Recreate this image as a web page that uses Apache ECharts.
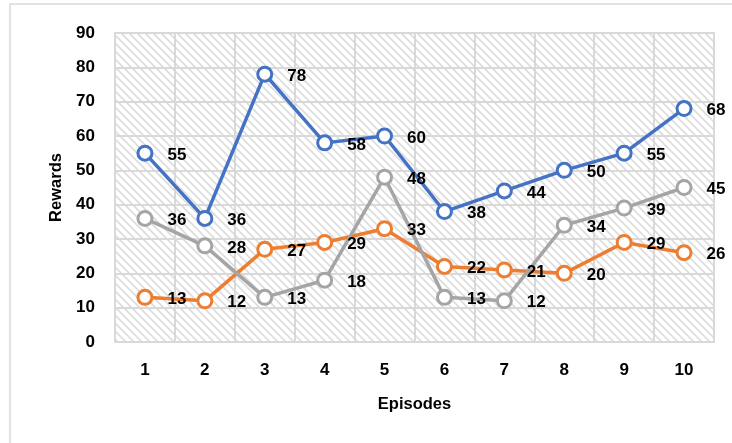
<!DOCTYPE html>
<html><head><meta charset="utf-8">
<script src="https://cdn.jsdelivr.net/npm/echarts@6/dist/echarts.min.js"></script>
<style>html,body{margin:0;padding:0;background:#fff}#c{width:732px;height:443px}</style>
</head><body><div id="c"></div>
<script>
var categories = ['1','2','3','4','5','6','7','8','9','10'];
var blueSeries = [55,36,78,58,60,38,44,50,55,68];
var orangeSeries = [13,12,27,29,33,22,21,20,29,26];
var graySeries = [36,28,13,18,48,13,12,34,39,45];

var P = 8;
var pc = document.createElement('canvas');
pc.width = P; pc.height = P;
var ctx = pc.getContext('2d');
ctx.fillStyle = '#ffffff'; ctx.fillRect(0,0,P,P);
ctx.strokeStyle = '#dcdcdc'; ctx.lineWidth = 1.6;
ctx.beginPath(); ctx.moveTo(-1,-1); ctx.lineTo(P+1,P+1); ctx.stroke();
ctx.beginPath(); ctx.moveTo(-1,P-1); ctx.lineTo(1,P+1); ctx.stroke();
ctx.beginPath(); ctx.moveTo(P-1,-1); ctx.lineTo(P+1,1); ctx.stroke();

var font = 'Liberation Sans';
function mk(name, data, color) {
  return {
    name: name, type: 'line', data: data,
    symbol: 'circle', symbolSize: 14,
    lineStyle: {color: color, width: 3.5},
    itemStyle: {color: '#ffffff', borderColor: color, borderWidth: 3},
    label: {show: true, position: 'right', distance: 14, offset: [0, 2], color: '#000', fontWeight: 'bold', fontSize: 17, fontFamily: font},
    z: 3
  };
}
var chart = echarts.init(document.getElementById('c'));
chart.setOption({
  animation: false,
  graphic: [{type: 'rect', shape: {x: 10, y: 4, width: 740, height: 460}, style: {fill: 'none', stroke: '#d9d9d9', lineWidth: 1.5}, z: -10}],
  grid: {left: 115, right: 18, top: 33, bottom: 101, show: true, backgroundColor: {image: pc, repeat: 'repeat'}, borderColor: '#d9d9d9', borderWidth: 2},
  xAxis: {
    type: 'category', data: categories, boundaryGap: true,
    name: 'Episodes', nameLocation: 'middle', nameGap: 54,
    nameTextStyle: {fontWeight: 'bold', fontSize: 16.5, color: '#000', fontFamily: font},
    axisLine: {show: true, lineStyle: {color: '#d9d9d9', width: 2}},
    axisTick: {show: false},
    axisLabel: {fontWeight: 'bold', fontSize: 17, color: '#000', margin: 20, fontFamily: font},
    splitLine: {show: true, lineStyle: {color: '#d9d9d9', width: 2}}
  },
  yAxis: {
    type: 'value', min: 0, max: 90, interval: 10,
    name: 'Rewards', nameLocation: 'middle', nameGap: 50, nameRotate: 90,
    nameTextStyle: {fontWeight: 'bold', fontSize: 16.5, color: '#000', fontFamily: font},
    axisLine: {show: false}, axisTick: {show: false},
    axisLabel: {fontWeight: 'bold', fontSize: 17, color: '#000', margin: 20, fontFamily: font},
    splitLine: {show: true, lineStyle: {color: '#d9d9d9', width: 2}}
  },
  series: [mk('A', blueSeries, '#4472c4'), mk('B', orangeSeries, '#ed7d31'), mk('C', graySeries, '#a5a5a5')]
});
</script></body></html>
